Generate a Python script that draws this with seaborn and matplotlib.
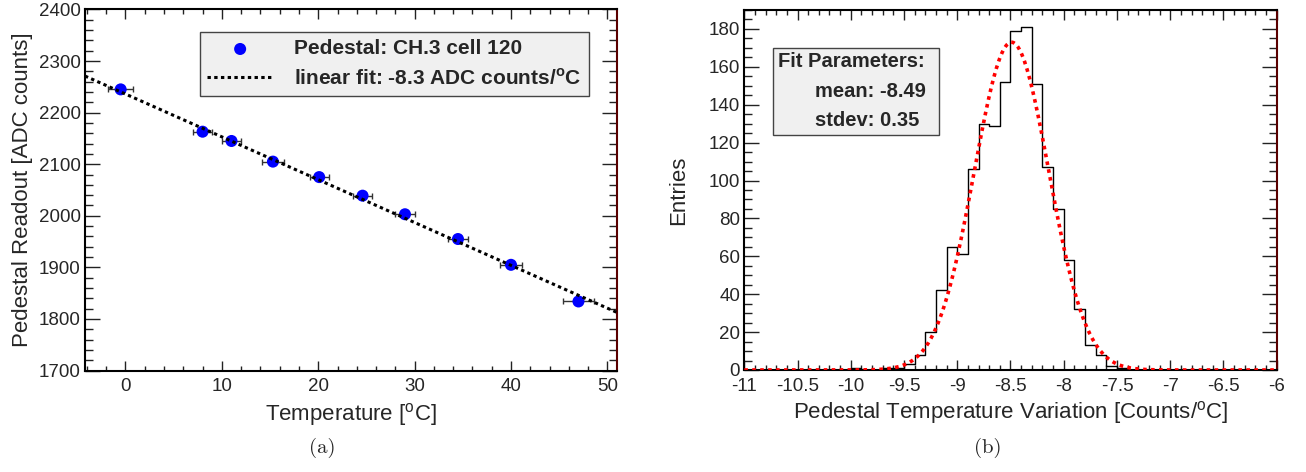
import numpy as np
import pandas as pd
import matplotlib
matplotlib.use('Agg')
import matplotlib.pyplot as plt
import seaborn as sns
from matplotlib.ticker import MultipleLocator
from matplotlib.patches import Rectangle

# panel (a): pedestal vs temperature
temp = [-0.5, 8.0, 11.0, 15.3, 20.1, 24.6, 29.0, 34.5, 40.0, 47.0]
temp_err = [1.3, 1.0, 1.0, 1.1, 1.0, 1.0, 1.0, 1.0, 1.1, 1.6]
pedestal = [2245, 2163, 2145, 2105, 2075, 2039, 2003, 1955, 1905, 1834]
fit_slope = -8.3
fit_intercept = 2236
fit_range = [-4.2, 51.0]

# panel (b): histogram of slopes, 50 bins from -11 to -6
hist_range = [-11.0, -6.0]
hist_counts = [0] * 10 + [1, 0, 0, 1, 1] + [
    3, 8, 20, 42, 65, 61, 106, 130, 129, 152, 179, 181, 151, 107, 85,
    58, 32, 13, 8, 2, 1] + [0] * 14
gaus_mean = -8.49
gaus_sigma = 0.35
gaus_amp = 173

sns.set_style('ticks')
plt.rcParams['font.family'] = ['Liberation Sans', 'DejaVu Sans']
plt.rcParams['mathtext.fontset'] = 'custom'
plt.rcParams['mathtext.rm'] = 'Liberation Sans'
plt.rcParams['mathtext.bf'] = 'Liberation Sans:bold'
plt.rcParams['axes.unicode_minus'] = False

fig = plt.figure(figsize=(13.06, 4.72), dpi=100)
W, H = 1306, 472
ax1 = fig.add_axes([85 / W, (H - 370.6) / H, 532 / W, 361.2 / H])
ax2 = fig.add_axes([744.3 / W, (H - 370) / H, 532.4 / W, 360 / H])

# ---- (a)
sns.scatterplot(x=temp, y=pedestal, ax=ax1, color='#0000ff', s=75,
                edgecolor='none', zorder=4)
pts = ax1.collections[-1]
ax1.errorbar(temp, pedestal, xerr=temp_err, fmt='none', ecolor='#333333',
             elinewidth=1, capsize=2, capthick=1, zorder=3)
xfit = np.linspace(fit_range[0], fit_range[1], 200)
sns.lineplot(x=xfit, y=fit_intercept + fit_slope * xfit, ax=ax1, color='black',
             linewidth=2.2, linestyle=(0, (1.1, 1.1)), zorder=5)
fitline = ax1.lines[-1]

ax1.set_xlim(-4.2, 51)
ax1.set_ylim(1700, 2400)
ax1.xaxis.set_major_locator(MultipleLocator(10))
ax1.xaxis.set_minor_locator(MultipleLocator(2))
ax1.yaxis.set_major_locator(MultipleLocator(100))
ax1.yaxis.set_minor_locator(MultipleLocator(20))
ax1.set_xlabel(r'Temperature [$^{\rm o}$C]', fontsize=16, labelpad=5)
ax1.set_ylabel('Pedestal Readout [ADC counts]', fontsize=16, labelpad=4)
ax1.tick_params(axis='x', which='both', pad=5)
ax1.tick_params(axis='y', which='both', pad=3)

leg = ax1.legend([pts, fitline],
                 ['Pedestal: CH.3 cell 120',
                  r'linear fit: -8.3 ADC counts/$^{\mathbf{o}}$C'],
                 loc='upper right', bbox_to_anchor=(0.947, 0.937),
                 prop={'weight': 'bold', 'size': 15}, frameon=True,
                 fancybox=False, framealpha=1, facecolor='#f0f0f0',
                 edgecolor='#444444', handlelength=3.2, handletextpad=1.0,
                 labelspacing=0.45, borderpad=0.35, borderaxespad=0)
leg.get_frame().set_linewidth(1.0)

# ---- (b)
edges = np.linspace(hist_range[0], hist_range[1], len(hist_counts) + 1)
centers = (edges[:-1] + edges[1:]) / 2
hdf = pd.DataFrame({'slope': centers, 'n': hist_counts})
sns.histplot(data=hdf, x='slope', weights='n', bins=len(hist_counts),
             binrange=hist_range, element='step', fill=False, color='black',
             linewidth=1.0, ax=ax2)
xg = np.linspace(hist_range[0], hist_range[1], 400)
yg = gaus_amp * np.exp(-0.5 * ((xg - gaus_mean) / gaus_sigma) ** 2)
sns.lineplot(x=xg, y=yg, ax=ax2, color='#ff0000', linewidth=2.6,
             linestyle=(0, (1, 1.2)), zorder=4)

ax2.set_xlim(hist_range)
ax2.set_ylim(0, 190)
ax2.xaxis.set_major_locator(MultipleLocator(0.5))
ax2.xaxis.set_minor_locator(MultipleLocator(0.1))
ax2.yaxis.set_major_locator(MultipleLocator(20))
ax2.yaxis.set_minor_locator(MultipleLocator(5))
ax2.xaxis.set_major_formatter(plt.FuncFormatter(lambda v, p: f'{v:g}'))
ax2.set_xlabel(r'Pedestal Temperature Variation [Counts/$^{\rm o}$C]',
               fontsize=16, labelpad=3)
ax2.set_ylabel('Entries', fontsize=16, labelpad=14)
ax2.tick_params(axis='x', which='both', pad=6)
ax2.tick_params(axis='y', which='both', pad=3)

ax2.add_patch(Rectangle((0.0545, 0.653), 0.3105, 0.242, transform=ax2.transAxes,
                        facecolor='#f0f0f0', edgecolor='#444444', lw=1.0,
                        zorder=6))
ax2.text(0.0627, 0.856, 'Fit Parameters:', transform=ax2.transAxes,
         fontsize=14.5, fontweight='bold', va='center', zorder=7)
ax2.text(0.133, 0.773, f'mean: {gaus_mean:.2f}', transform=ax2.transAxes,
         fontsize=14.5, fontweight='bold', va='center', zorder=7)
ax2.text(0.133, 0.692, f'stdev: {gaus_sigma:.2f}', transform=ax2.transAxes,
         fontsize=14.5, fontweight='bold', va='center', zorder=7)

for ax in (ax1, ax2):
    ax.tick_params(which='both', direction='in', top=True, right=True,
                   labelsize=13.5, color='#222222', width=1)
    ax.tick_params(axis='x', which='major', length=7.2)
    ax.tick_params(axis='x', which='minor', length=3.6)
    ax.tick_params(axis='y', which='major', length=11)
    ax.tick_params(axis='y', which='minor', length=5.5)
    for s in ax.spines.values():
        s.set_linewidth(1.5)
        s.set_color('black')
    ax.spines['right'].set_color('#5a0000')
    ax.axhline(ax.get_ylim()[0], color='#d02020', lw=0.8, zorder=2)

fig.text(322 / W, 1 - 448 / H, '(a)', family='cmr10', fontsize=15,
         ha='center', va='center')
fig.text(988 / W, 1 - 448 / H, '(b)', family='cmr10', fontsize=15,
         ha='center', va='center')

fig.savefig('out.png', dpi=100)
